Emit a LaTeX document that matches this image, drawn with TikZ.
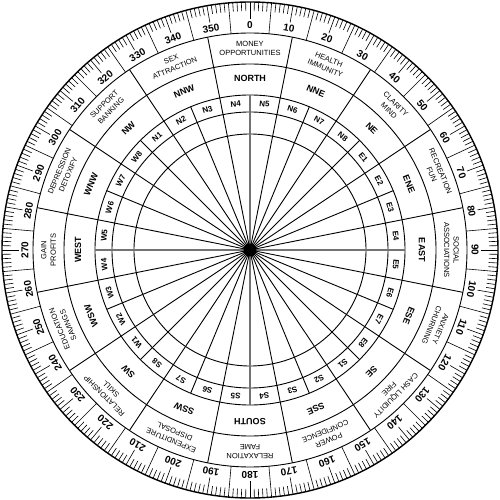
\documentclass[tikz,border=0pt]{standalone}
\usepackage{fontspec}
\setmainfont{Liberation Sans}
\begin{document}
\begin{tikzpicture}[x=1pt,y=1pt,line width=0.9pt,
  numlbl/.style={font=\bfseries\fontsize{10}{10}\selectfont,inner sep=0pt},
  outlbl/.style={font=\fontsize{7.5}{9.5}\selectfont,align=center,inner sep=0pt},
  dirlbl/.style={font=\bfseries\fontsize{9}{9}\selectfont,inner sep=0pt},
  seclbl/.style={font=\bfseries\fontsize{8}{8}\selectfont,inner sep=0pt},
  tickline/.style={line width=0.6pt},
  ringline/.style={line width=0.9pt},
  axisline/.style={line width=1.2pt,draw=black!55}]
\useasboundingbox (-250pt,-250pt) rectangle (250pt,250pt);
\fill[white] (-250pt,-250pt) rectangle (250pt,250pt);
% degree ticks
\foreach \a in {0,...,359} {
  \pgfmathtruncatemacro\m{mod(\a,10)}
  \ifnum\m=0 \def\ri{231}\else\ifnum\m=5 \def\ri{217}\else\def\ri{239}\fi\fi
  \draw[tickline] (90-\a:\ri pt) -- (90-\a:248pt);
}
% rings
\draw[line width=1.4pt] (0,0) circle[radius=248pt];
\foreach \r in {217,186,155,138,116} \draw[ringline] (0,0) circle[radius=\r pt];
% spokes
\foreach \k in {0,...,31} {
  \pgfmathtruncatemacro\odd{mod(\k,2)}
  \pgfmathtruncatemacro\ax{mod(\k,8)}
  \ifnum\odd=1
    \draw[ringline] (0,0) -- (90-11.25*\k:217pt);
  \else\ifnum\ax=0
    \draw[axisline] (0,0) -- (90-11.25*\k:155pt);
  \else
    \draw[ringline] (0,0) -- (90-11.25*\k:155pt);
  \fi\fi
}
\fill (0,0) circle[radius=6.5pt];
% numbers
\foreach \a in {0,10,...,350}
  \node[numlbl,rotate=-\a] (num\a) at (90-\a:225pt) {\a};
% outer labels
\foreach \t [count=\i from 0] in {{MONEY\\OPPORTUNITIES},{HEALTH\\IMMUNITY},{CLARITY\\MIND},{RECREATION\\FUN},{SOCIAL\\ASSOCIATIONS},{ANXIETY\\CHURNING},{CASH LIQUIDITY\\FIRE},{POWER\\CONFIDENCE},{RELAXATION\\FAME},{EXPENDITURE\\DISPOSAL},{RELATIONSHIP\\SKILL},{EDUCATION\\SAVINGS},{GAIN\\PROFITS},{DEPRESSION\\DETOXIFY},{SUPPORT\\BANKING},{SEX\\ATTRACTION}}
  \node[outlbl,rotate=-22.5*\i] (out\i) at (90-22.5*\i:201.5pt) {\t};
% direction labels
\foreach \t [count=\i from 0] in {NORTH,NNE,NE,ENE,EAST,ESE,SE,SSE,SOUTH,SSW,SW,WSW,WEST,WNW,NW,NNW}
  \node[dirlbl,rotate=-22.5*\i] (dir\i) at (90-22.5*\i:172pt) {\t};
% sector labels
\foreach \t [count=\k from 0] in {N1,N2,N3,N4,N5,N6,N7,N8,E1,E2,E3,E4,E5,E6,E7,E8,S1,S2,S3,S4,S5,S6,S7,S8,W1,W2,W3,W4,W5,W6,W7,W8}
  \node[seclbl,rotate=-320.625-11.25*\k] (sec\k) at (90-320.625-11.25*\k:146.5pt) {\t};
\end{tikzpicture}
\end{document}
